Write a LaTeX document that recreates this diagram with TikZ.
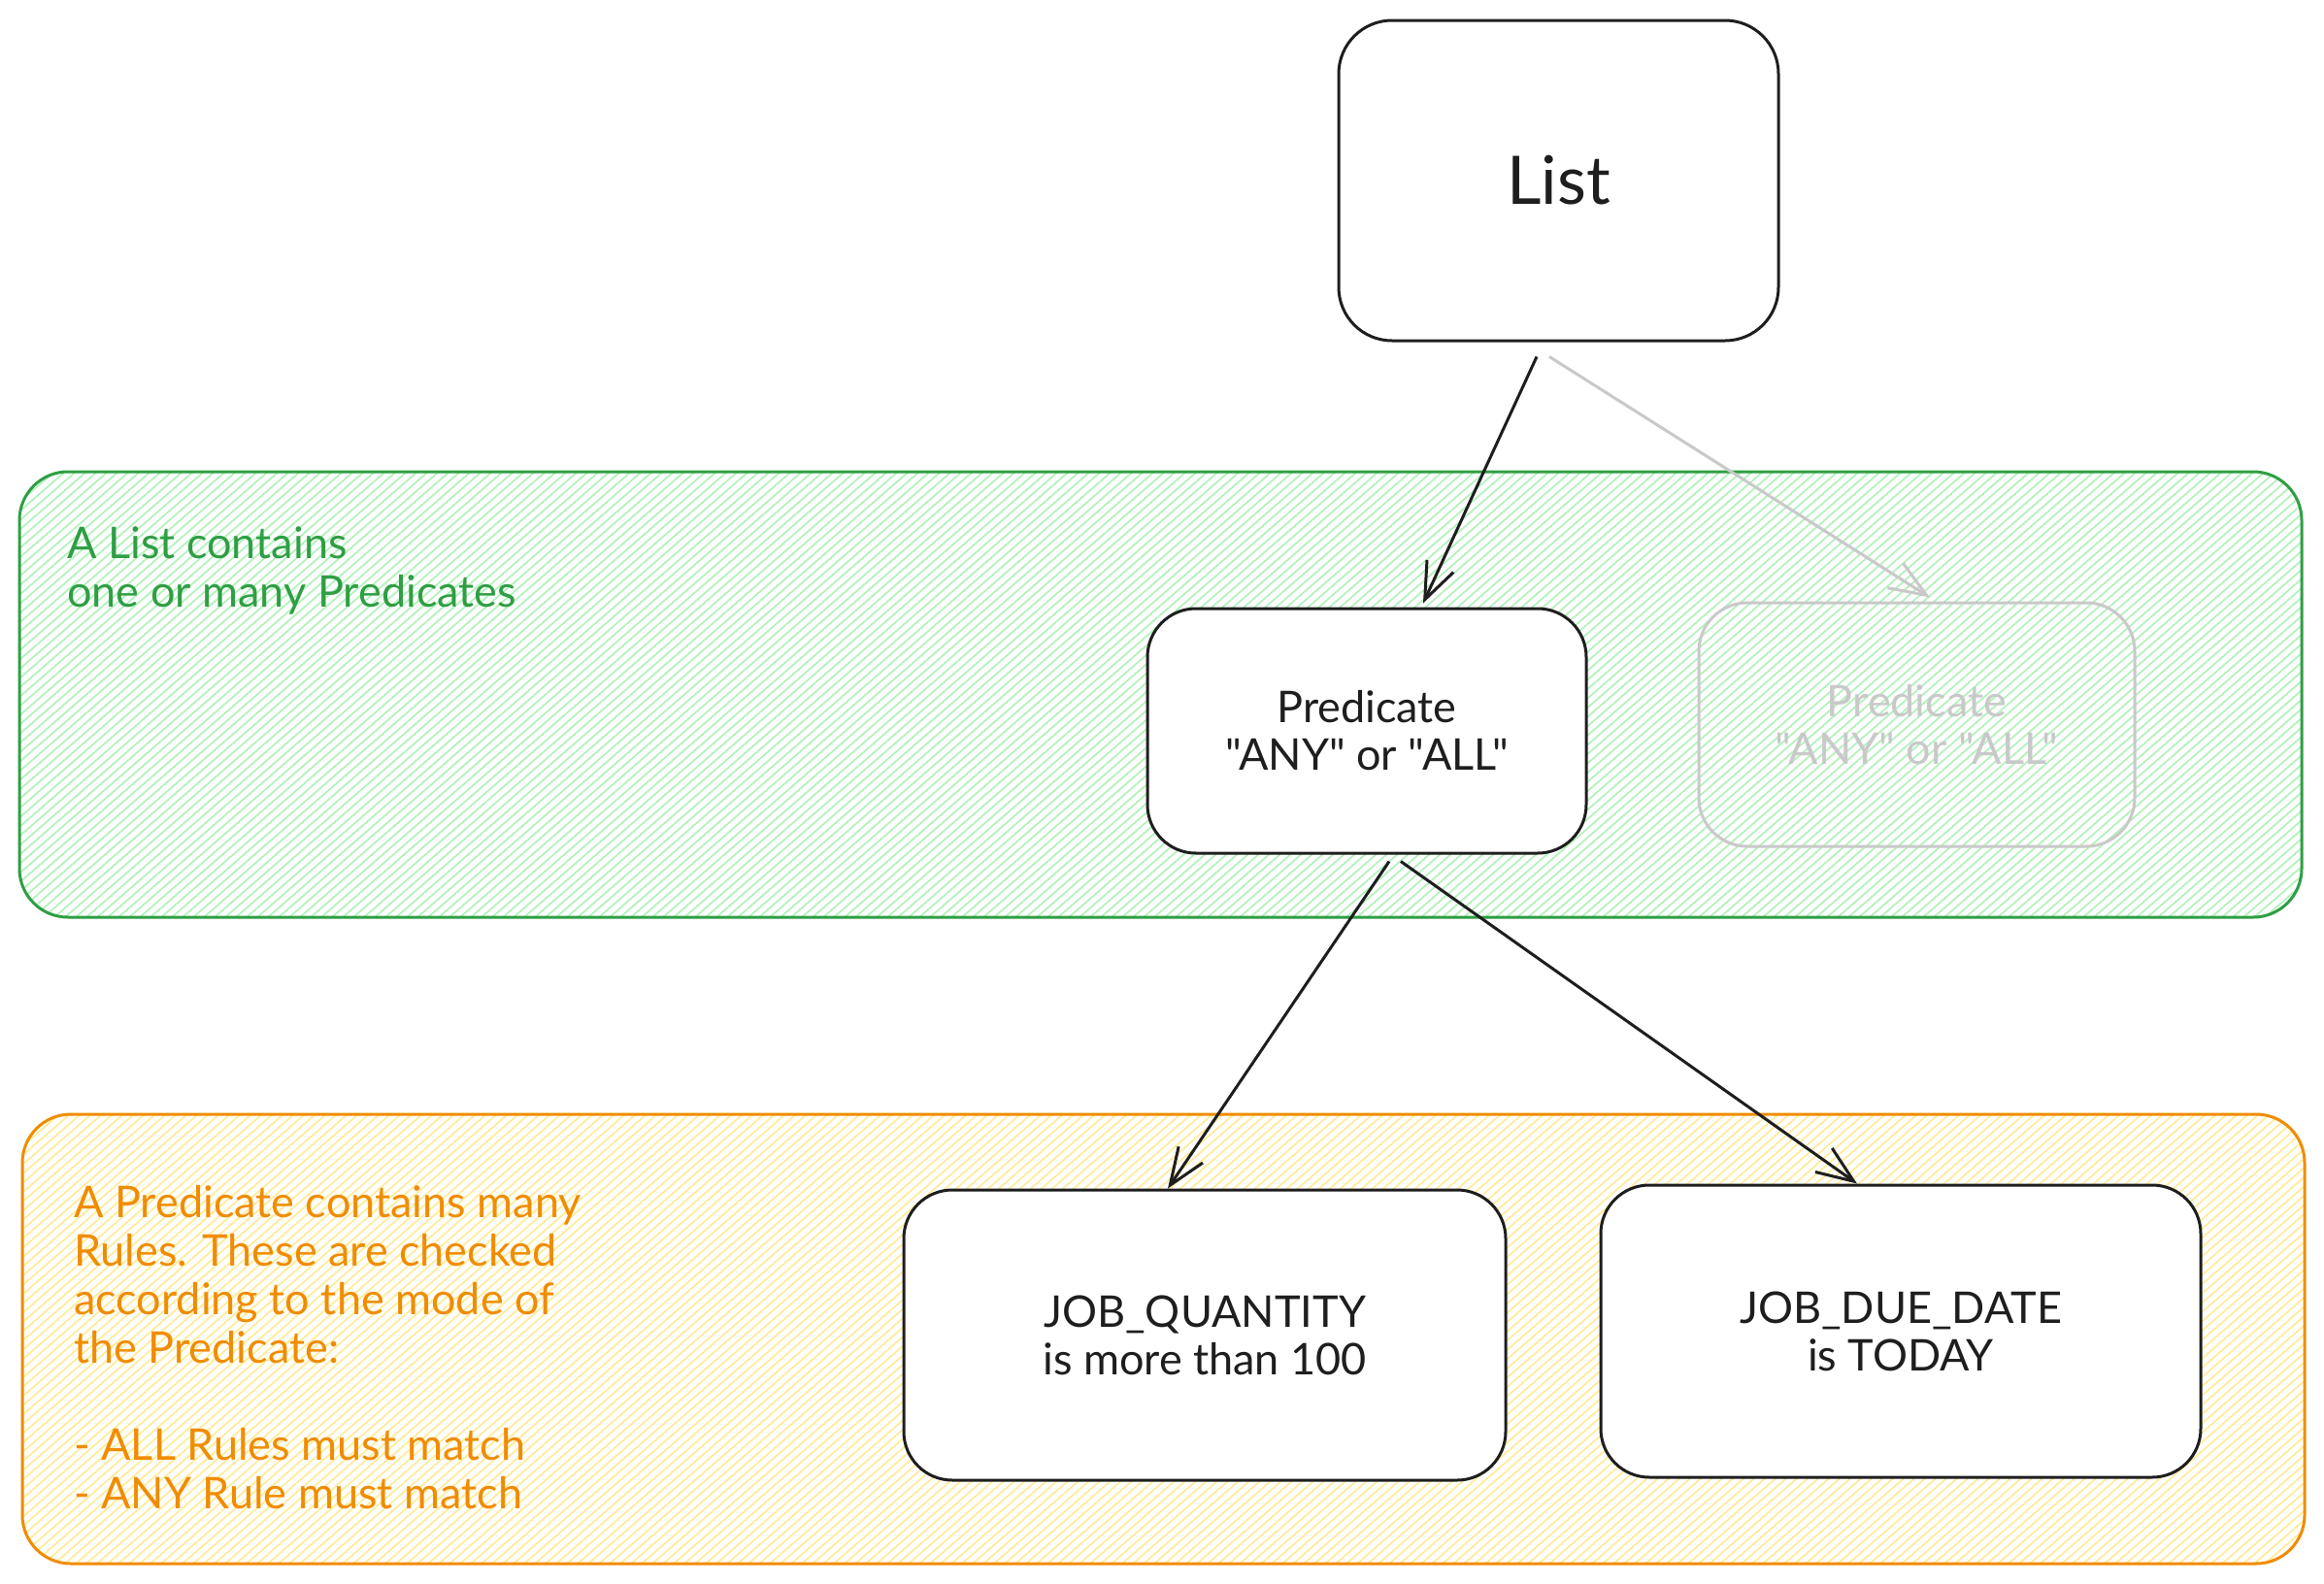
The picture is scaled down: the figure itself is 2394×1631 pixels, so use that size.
\documentclass[tikz,border=0pt]{standalone}
\usepackage{fontspec}
\setmainfont{Lato}[Ligatures=TeXOff]
\usetikzlibrary{arrows.meta,calc}
\definecolor{ink}{HTML}{1E1E1E}
\definecolor{gstroke}{HTML}{2F9E44}
\definecolor{gfill}{HTML}{B2F2BB}
\definecolor{ostroke}{HTML}{F08C00}
\definecolor{ofill}{HTML}{FFEC99}
\definecolor{ghostc}{HTML}{C9C9C9}
\tikzset{
  box/.style={draw=ink, line width=3pt, fill=white, rounded corners=50pt, align=center,
    text=ink, font=\fontsize{45}{49}\selectfont, inner sep=0pt},
  ghostbox/.style={draw=ghostc, line width=3pt, rounded corners=50pt, align=center,
    text=ghostc, font=\fontsize{45}{49}\selectfont, inner sep=0pt},
  region/.style={line width=3pt, rounded corners=50pt, inner sep=0pt, outer sep=0pt},
  note/.style={align=left, inner sep=0pt, font=\fontsize{45}{50}\selectfont},
  conn/.style={draw=ink, line width=3pt, -{Straight Barb[length=38pt,width=30pt,line width=3pt]}},
  ghostconn/.style={draw=ghostc, line width=3pt, -{Straight Barb[length=38pt,width=30pt,line width=3pt]}},
  ghach/.style={draw=gfill, line width=1.7pt},
  ohach/.style={draw=ofill, line width=1.7pt},
}
\begin{document}
\begin{tikzpicture}[x=1pt,y=-1pt]
\useasboundingbox[fill=white] (0,0) rectangle (2394,1631);

% green region
\node[region, minimum width=2351pt, minimum height=459pt, anchor=north west] (green) at (20,486) {};
\begin{scope}
  \clip[rounded corners=50pt] (green.north west) rectangle (green.south east);
  \foreach \x in {-560,-549,...,2380} {\draw[ghach] (\x,945) -- ++(528,-459);}
\end{scope}
\draw[region, draw=gstroke] (green.north west) rectangle (green.south east);

% orange region
\node[region, minimum width=2351pt, minimum height=463pt, anchor=north west] (orange) at (23,1148) {};
\begin{scope}
  \clip[rounded corners=50pt] (orange.north west) rectangle (orange.south east);
  \foreach \x in {-560,-549,...,2380} {\draw[ohach] (\x,1611) -- ++(533,-463);}
\end{scope}
\draw[region, draw=ostroke] (orange.north west) rectangle (orange.south east);

% notes
\node[note, text=gstroke, anchor=west] (gnote) at (69,588) {A List contains\\one or many Predicates};
\node[note, text=ostroke, anchor=west] (onote) at (76,1388) {A Predicate contains many\\Rules. These are checked\\according to the mode of\\the Predicate:\\[50pt]- ALL Rules must match\\- ANY Rule must match};

% boxes
\node[box, minimum width=453pt, minimum height=330pt, rounded corners=55pt, font=\fontsize{69}{75}\selectfont] (list) at (1605.5,186) {List};
\node[box, minimum width=452pt, minimum height=252pt] (pred) at (1408,753) {Predicate\\"ANY" or "ALL"};
\node[ghostbox, minimum width=449pt, minimum height=251pt] (ghost) at (1974.5,746.5) {Predicate\\"ANY" or "ALL"};
\node[box, minimum width=620pt, minimum height=299pt] (qty) at (1241,1375.5) {JOB\_QUANTITY\\is more than 100};
\node[box, minimum width=618pt, minimum height=301pt] (due) at (1958,1371.5) {JOB\_DUE\_DATE\\is TODAY};

% connectors
\draw[conn] ($(list.south)+(-22.5,15)$) -- ($(pred.north)+(58,-4)$);
\draw[ghostconn] ($(list.south)+(-9.5,15)$) -- ($(ghost.north)+(13.5,-4)$);
\draw[conn] ($(pred.south)+(23,7)$) -- ($(qty.north)+(-38,0)$);
\draw[conn] ($(pred.south)+(35,7)$) -- ($(due.north)+(-45,0)$);
\end{tikzpicture}
\end{document}
